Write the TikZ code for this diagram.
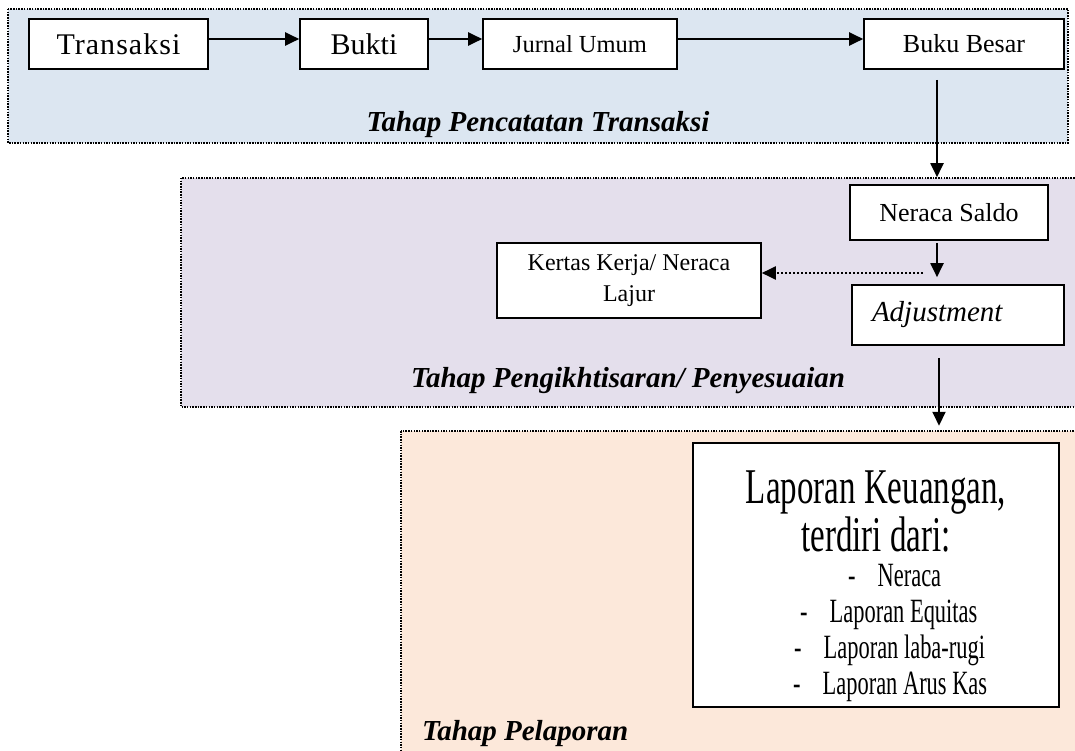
\documentclass[tikz,border=0pt]{standalone}
\usepackage{fontspec}
\setmainfont{Liberation Serif}
\newfontfamily\sempit[FakeStretch=0.66]{Liberation Serif}
\newfontfamily\renggang[LetterSpace=3.5]{Liberation Serif}
\usetikzlibrary{arrows.meta}
\definecolor{biru}{HTML}{DCE6F1}
\definecolor{ungu}{HTML}{E4DFEC}
\definecolor{jingga}{HTML}{FCE8DA}

\begin{document}
\begin{tikzpicture}[x=1pt, y=-1pt,
  box/.style={rectangle, draw, fill=white, line width=1.6pt, inner sep=0pt, align=center},
  panel/.style={line width=1.5pt, dash pattern=on 1.5pt off 1.2pt},
  arrow/.style={-{Triangle[length=14pt, width=13pt]}, line width=2pt},
  dotarrow/.style={arrow, dash pattern=on 2pt off 2pt},
  stage/.style={font=\bfseries\itshape\fontsize{29}{34}\selectfont, inner sep=0pt},
  lap/.style={inner sep=0pt, anchor=base},
  item/.style={inner sep=0pt, anchor=base west, font=\sempit\fontsize{34}{40}\selectfont}
]
  \clip (0,0) rectangle (1075,751);

  % Panels
  \draw[panel, fill=biru] (8,9) rectangle (1068,143);
  \draw[panel, fill=ungu] (181,178) rectangle (1090,407);
  \draw[panel, fill=jingga] (401,431) rectangle (1090,775);

  % Tahap Pencatatan
  \node[box, minimum width=179pt, minimum height=50pt, font=\renggang\fontsize{30}{36}\selectfont] (transaksi) at (118.5,44) {Transaksi};
  \node[box, minimum width=128pt, minimum height=50pt, font=\fontsize{30}{36}\selectfont] (bukti) at (364,44) {Bukti};
  \node[box, minimum width=194pt, minimum height=50pt, font=\fontsize{24.5}{29}\selectfont] (jurnal) at (580,44) {Jurnal Umum};
  \node[box, minimum width=200pt, minimum height=50pt, font=\fontsize{26}{31}\selectfont] (bukubesar) at (964,44) {Buku Besar};

  % Tahap Pengikhtisaran
  \node[box, minimum width=198pt, minimum height=55pt, font=\fontsize{26}{31}\selectfont] (neraca) at (949,212.5) {Neraca Saldo};
  \node[box, minimum width=264pt, minimum height=75pt, font=\fontsize{24}{31}\selectfont] (kertas) at (629,280.5) {Kertas Kerja/ Neraca\\Lajur};
  \node[box, minimum width=212pt, minimum height=60pt, text width=172pt, inner xsep=20pt, align=left, font=\itshape\fontsize{29}{34}\selectfont] (adjust) at (958,315) {Adjustment};

  % Tahap Pelaporan
  \node[box, line width=2.5pt, minimum width=366pt, minimum height=264pt] (laporan) at (876,575) {};
  \node[lap, font=\sempit\fontsize{50}{56}\selectfont] (judul) at (876,503) {Laporan Keuangan,};
  \node[lap, font=\sempit\fontsize{50}{56}\selectfont] (subjudul) at (876,551) {terdiri dari:};
  \node[item] (item1) at (848,586) {-\hspace{22pt}Neraca};
  \node[item] (item2) at (800,622) {-\hspace{22pt}Laporan Equitas};
  \node[item] (item3) at (794,658) {-\hspace{22pt}Laporan laba-rugi};
  \node[item] (item4) at (793,694) {-\hspace{22pt}Laporan Arus Kas};

  % Arrows
  \draw[arrow] ([yshift=5pt]transaksi.east) -- ([yshift=5pt]bukti.west);
  \draw[arrow] ([yshift=5pt]bukti.east) -- ([yshift=5pt]jurnal.west);
  \draw[arrow] ([yshift=5pt]jurnal.east) -- ([yshift=5pt]bukubesar.west);
  \draw[arrow, shorten >=7pt] ([xshift=-27pt, yshift=-10pt]bukubesar.south) -- ([xshift=-12pt]neraca.north);
  \draw[arrow, shorten >=7pt] ([xshift=-12pt, yshift=-2pt]neraca.south) -- ([xshift=-21pt]adjust.north);
  \coordinate (cabang) at (923,273);
  \draw[dotarrow] (cabang) -- (cabang -| kertas.east);
  \draw[arrow, shorten >=16pt] ([xshift=-19pt, yshift=-12pt]adjust.south) -- ([xshift=63pt]laporan.north);

  % Stage labels
  \node[stage, anchor=base] (lbl1) at (538,132) {Tahap Pencatatan Transaksi};
  \node[stage, anchor=base] (lbl2) at (628,387) {Tahap Pengikhtisaran/ Penyesuaian};
  \node[stage, anchor=base west] (lbl3) at (422,740) {Tahap Pelaporan};
\end{tikzpicture}
\end{document}
